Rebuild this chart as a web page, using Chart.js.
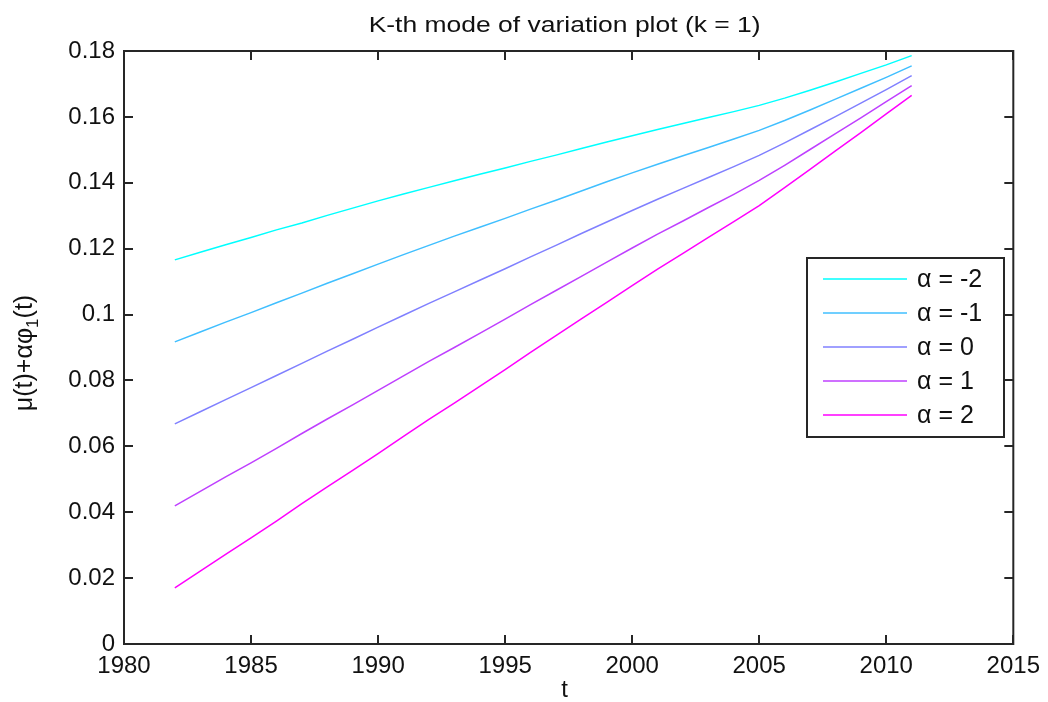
<!DOCTYPE html>
<html>
<head>
<meta charset="utf-8">
<script src="https://cdn.jsdelivr.net/npm/chart.js@4.4.1/dist/chart.umd.min.js"></script>
<style>
  html, body { margin: 0; padding: 0; background: #fff; }
  #wrap { width: 1048px; height: 702px; }
</style>
</head>
<body>
<div id="wrap"><canvas id="modeChart"></canvas></div>
<script>
const years = [1982, 1983, 1984, 1985, 1986, 1987, 1988, 1989, 1990, 1991,
               1992, 1993, 1994, 1995, 1996, 1997, 1998, 1999, 2000, 2001,
               2002, 2003, 2004, 2005, 2006, 2007, 2008, 2009, 2010, 2011];

const alphaMinus2 = [0.1166, 0.1189, 0.1212, 0.1234, 0.1257, 0.1278, 0.1301, 0.1323, 0.1345, 0.1366,
                     0.1386, 0.1406, 0.1426, 0.1445, 0.1465, 0.1484, 0.1504, 0.1524, 0.1543, 0.1562,
                     0.1580, 0.1598, 0.1616, 0.1635, 0.1657, 0.1681, 0.1706, 0.1732, 0.1758, 0.1786];
const alphaMinus1 = [0.0917, 0.0947, 0.0977, 0.1006, 0.1036, 0.1065, 0.1095, 0.1124, 0.1153, 0.1182,
                     0.1210, 0.1238, 0.1265, 0.1292, 0.1320, 0.1347, 0.1375, 0.1403, 0.1430, 0.1456,
                     0.1482, 0.1507, 0.1533, 0.1559, 0.1589, 0.1621, 0.1654, 0.1687, 0.1720, 0.1755];
const alphaZero   = [0.0668, 0.0705, 0.0742, 0.0778, 0.0815, 0.0852, 0.0889, 0.0925, 0.0962, 0.0998,
                     0.1034, 0.1069, 0.1104, 0.1139, 0.1175, 0.1210, 0.1246, 0.1281, 0.1316, 0.1350,
                     0.1383, 0.1416, 0.1449, 0.1483, 0.1521, 0.1561, 0.1601, 0.1642, 0.1683, 0.1725];
const alphaPlus1  = [0.0419, 0.0463, 0.0507, 0.0550, 0.0594, 0.0639, 0.0683, 0.0726, 0.0770, 0.0814,
                     0.0858, 0.0900, 0.0943, 0.0986, 0.1030, 0.1073, 0.1116, 0.1159, 0.1202, 0.1244,
                     0.1284, 0.1325, 0.1365, 0.1407, 0.1453, 0.1501, 0.1549, 0.1597, 0.1646, 0.1695];
const alphaPlus2  = [0.0170, 0.0221, 0.0272, 0.0322, 0.0373, 0.0426, 0.0477, 0.0527, 0.0578, 0.0630,
                     0.0682, 0.0731, 0.0782, 0.0833, 0.0885, 0.0936, 0.0987, 0.1037, 0.1088, 0.1138,
                     0.1186, 0.1234, 0.1282, 0.1331, 0.1385, 0.1441, 0.1497, 0.1552, 0.1609, 0.1665];

const seriesLabels = ['\u03b1 = -2', '\u03b1 = -1', '\u03b1 = 0', '\u03b1 = 1', '\u03b1 = 2'];
const seriesColors = ['#00ffff', '#40bfff', '#8080ff', '#bf40ff', '#ff00ff'];
const xTicks = [1980, 1985, 1990, 1995, 2000, 2005, 2010, 2015];
const yTicks = [0, 0.02, 0.04, 0.06, 0.08, 0.1, 0.12, 0.14, 0.16, 0.18];

const FONT = '"Liberation Sans", Arial, sans-serif';
const AXIS = '#262626';

function pts(vals) {
    return years.map((y, i) => ({ x: y, y: vals[i] }));
}

const allSeries = [alphaMinus2, alphaMinus1, alphaZero, alphaPlus1, alphaPlus2];

// box, inward ticks, title, y label and the legend box
const framePlugin = {
    id: 'frame',
    afterDraw(chart) {
        const ctx = chart.ctx;
        const a = chart.chartArea;
        const xs = chart.scales.x, ys = chart.scales.y;
        ctx.save();
        ctx.strokeStyle = AXIS;
        ctx.lineWidth = 2;
        ctx.strokeRect(a.left, a.top, a.right - a.left, a.bottom - a.top);
        ctx.beginPath();
        xTicks.forEach(t => {
            const px = Math.round(xs.getPixelForValue(t));
            ctx.moveTo(px, a.bottom); ctx.lineTo(px, a.bottom - 9);
            ctx.moveTo(px, a.top); ctx.lineTo(px, a.top + 9);
        });
        yTicks.forEach(t => {
            const py = Math.round(ys.getPixelForValue(t));
            ctx.moveTo(a.left, py); ctx.lineTo(a.left + 9, py);
            ctx.moveTo(a.right, py); ctx.lineTo(a.right - 9, py);
        });
        ctx.stroke();

        // title, stretched a little to the width it has in the original
        ctx.fillStyle = '#111';
        ctx.font = '22px ' + FONT;
        ctx.textAlign = 'center';
        ctx.textBaseline = 'middle';
        const title = 'K-th mode of variation plot (k = 1)';
        const sx = 392 / ctx.measureText(title).width;
        ctx.save();
        ctx.translate((a.left + a.right) / 2 - 4, 26);
        ctx.scale(sx, 1);
        ctx.fillText(title, 0, 0);
        ctx.restore();

        // x label
        ctx.font = '24px ' + FONT;
        ctx.fillText('t', (a.left + a.right) / 2 - 4, 690);

        // y label, rotated, with subscript
        ctx.save();
        ctx.translate(25, 353);
        ctx.rotate(-Math.PI / 2);
        ctx.textAlign = 'left';
        ctx.textBaseline = 'middle';
        const p1 = '\u03bc(t)+\u03b1\u03c6', p2 = '1', p3 = '(t)';
        ctx.font = '25px ' + FONT;
        const w1 = ctx.measureText(p1).width, w3 = ctx.measureText(p3).width;
        ctx.font = '17px ' + FONT;
        const w2 = ctx.measureText(p2).width;
        let x0 = -(w1 + w2 + w3) / 2;
        ctx.font = '25px ' + FONT;
        ctx.fillText(p1, x0, 0);
        ctx.font = '17px ' + FONT;
        ctx.fillText(p2, x0 + w1, 8);
        ctx.font = '25px ' + FONT;
        ctx.fillText(p3, x0 + w1 + w2, 0);
        ctx.restore();

        // legend
        const lx = 807, ly = 258, lw = 197, lh = 179;
        ctx.fillStyle = '#fff';
        ctx.fillRect(lx, ly, lw, lh);
        ctx.strokeStyle = AXIS;
        ctx.lineWidth = 2;
        ctx.strokeRect(lx, ly, lw, lh);
        ctx.font = '25px ' + FONT;
        ctx.textAlign = 'left';
        ctx.textBaseline = 'middle';
        chart.data.datasets.forEach((ds, i) => {
            const ry = ly + 21 + i * 34;
            ctx.strokeStyle = ds.borderColor;
            ctx.lineWidth = 1.5;
            ctx.beginPath();
            ctx.moveTo(lx + 16, ry); ctx.lineTo(lx + 100, ry);
            ctx.stroke();
            ctx.fillStyle = '#111';
            ctx.fillText(ds.label, lx + 110, ry + 1);
        });
        ctx.restore();
    }
};

new Chart(document.getElementById('modeChart'), {
    type: 'line',
    data: {
        datasets: allSeries.map((vals, i) => ({
            label: seriesLabels[i],
            data: pts(vals),
            borderColor: seriesColors[i],
            backgroundColor: seriesColors[i],
            borderWidth: 1.5,
            pointRadius: 0,
            tension: 0,
            fill: false
        }))
    },
    options: {
        responsive: true,
        maintainAspectRatio: false,
        animation: false,
        layout: { padding: { top: 51, right: 30, left: 0, bottom: 0 } },
        plugins: {
            legend: { display: false },
            title: { display: false },
            tooltip: { enabled: false }
        },
        scales: {
            x: {
                type: 'linear',
                min: 1980,
                max: 2015,
                afterBuildTicks(scale) { scale.ticks = xTicks.map(v => ({ value: v })); },
                afterFit(scale) { scale.height = 58; },
                grid: { display: false, drawTicks: false },
                border: { display: false },
                ticks: {
                    color: '#111',
                    padding: 8,
                    maxRotation: 0,
                    font: { family: FONT, size: 24 },
                    callback: v => String(v)
                }
            },
            y: {
                min: 0,
                max: 0.18,
                afterBuildTicks(scale) { scale.ticks = yTicks.map(v => ({ value: v })); },
                afterFit(scale) { scale.width = 124; },
                grid: { display: false, drawTicks: false },
                border: { display: false },
                ticks: {
                    color: '#111',
                    padding: 9,
                    font: { family: FONT, size: 24 },
                    callback: v => String(+v.toFixed(2))
                }
            }
        }
    },
    plugins: [framePlugin]
});
</script>
</body>
</html>
